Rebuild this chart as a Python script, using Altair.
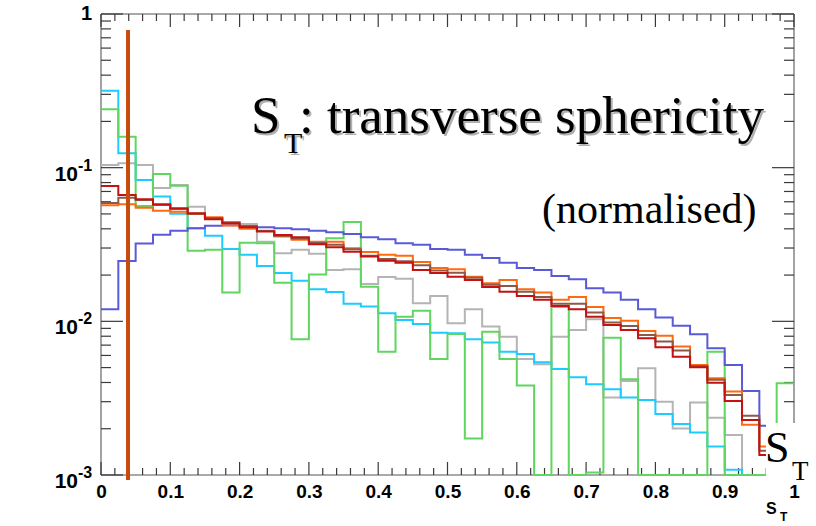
import altair as alt
import pandas as pd

# ---------------- data (normalised S_T distributions, 40 bins on [0,1]) ----------------
bin_width = 0.025
purple = [0.0120, 0.0247, 0.0321, 0.0366, 0.0389, 0.0403, 0.0419, 0.0422, 0.0418, 0.0410,
          0.0403, 0.0397, 0.0389, 0.0380, 0.0370, 0.0352, 0.0342, 0.0322, 0.0315, 0.0296,
          0.0292, 0.0271, 0.0258, 0.0241, 0.0222, 0.0216, 0.0197, 0.0188, 0.0164, 0.0154,
          0.0138, 0.0120, 0.0106, 0.00937, 0.00824, 0.00668, 0.00520, 0.00352, 0.00209, 0.0012]
orange = [0.0569, 0.0578, 0.0549, 0.0525, 0.0517, 0.0500, 0.0475, 0.0420, 0.0400, 0.0389,
          0.0356, 0.0339, 0.0330, 0.0329, 0.0299, 0.0283, 0.0271, 0.0267, 0.0243, 0.0222,
          0.0218, 0.0195, 0.0177, 0.0186, 0.0162, 0.0154, 0.0138, 0.0144, 0.0124, 0.0105,
          0.0101, 0.00866, 0.00807, 0.00685, 0.0052, 0.00426, 0.00349, 0.00212, 0.00153, 0.0011]
red = [0.0760, 0.0664, 0.0622, 0.0578, 0.0544, 0.0505, 0.0461, 0.0435, 0.0410, 0.0384,
       0.0365, 0.0352, 0.0318, 0.0303, 0.0284, 0.0264, 0.0248, 0.0241, 0.0216, 0.0206,
       0.0195, 0.0186, 0.0167, 0.0156, 0.0146, 0.0138, 0.0126, 0.0120, 0.0107, 0.00948,
       0.00879, 0.00776, 0.00679, 0.00589, 0.00502, 0.00399, 0.00303, 0.00228, 0.00135, 0.0010]
brown = [0.0589, 0.0638, 0.0616, 0.0572, 0.0538, 0.0502, 0.0471, 0.0440, 0.0412, 0.0387,
         0.0360, 0.0346, 0.0324, 0.0315, 0.0294, 0.0267, 0.0254, 0.0246, 0.0232, 0.0214,
         0.0207, 0.0192, 0.0173, 0.0170, 0.0156, 0.0144, 0.0130, 0.0130, 0.0114, 0.00982,
         0.00933, 0.00816, 0.00738, 0.00645, 0.00513, 0.00416, 0.00332, 0.00243, 0.00144, 0.00105]
gray = [0.104, 0.107, 0.104, 0.0738, 0.0771, 0.0557, 0.0471, 0.0443, 0.0430, 0.0330,
        0.0277, 0.0292, 0.0275, 0.0216, 0.0218, 0.0175, 0.0194, 0.0189, 0.0131, 0.0146,
        0.00972, 0.0120, 0.00924, 0.00795, 0.00569, 0.00526, 0.00795, 0.00879, 0.0103, 0.00319,
        0.00409, 0.00495, 0.00300, 0.00201, 0.00296, 0.00236, 0.00182, 0, 0, 0]
cyan = [0.317, 0.124, 0.0832, 0.0648, 0.0502, 0.0403, 0.0361, 0.0296, 0.0271, 0.0229,
        0.0206, 0.0184, 0.0162, 0.0155, 0.0130, 0.0125, 0.0113, 0.0102, 0.00962, 0.00844,
        0.00837, 0.00765, 0.00727, 0.00635, 0.00614, 0.00542, 0.0049, 0.00433, 0.0039, 0.00362,
        0.00319, 0.00308, 0.00249, 0.00215, 0.00189, 0.00153, 0.00108, 0, 0, 0]
green = [0.240, 0.159, 0.0563, 0.091, 0.0764, 0.0288, 0.0292, 0.0154, 0.0325, 0.0322,
         0.0178, 0.00765, 0.0202, 0.0347, 0.0443, 0.0168, 0.00635, 0.0107, 0.0117, 0.00569,
         0.00828, 0.00173, 0.00857, 0.00569, 0.00382, 0, 0.0124, 0, 0.00104, 0.00783,
         0.0042, 0, 0, 0, 0, 0.00635, 0, 0, 0, 0.00395]

cut_x = [0.039]
cut_top = [0.787]

x_tick_labels = [0, 0.1, 0.2, 0.3, 0.4, 0.5, 0.6, 0.7, 0.8, 0.9, 1]
y_decades = [0.1, 0.01, 0.001]
y_exponents = ["-1", "-2", "-3"]

series = [
    ("gray", gray, "#b4b4b4"),
    ("cyan", cyan, "#1ccbff"),
    ("green", green, "#5fd65f"),
    ("purple", purple, "#5a5ad9"),
    ("orange", orange, "#ff6a10"),
    ("brown", brown, "#8b5a48"),
    ("red", red, "#c41212"),
]

W, H = 693, 461
FLOOR = 1e-6  # empty bins are drawn on the lower frame edge (clamped)

xs = alt.Scale(domain=[0, 1], nice=False, zero=False)
ys = alt.Scale(type="log", domain=[0.001, 1], nice=False, clamp=True)
xaxis = alt.Axis(values=x_tick_labels, format="~g", labelFont="Liberation Sans",
                 labelFontWeight="bold", labelFontSize=19, labelColor="black",
                 labelPadding=7, labelFlush=False, labelOverlap=False,
                 domain=False, ticks=False, grid=False, title=None)
X = lambda: alt.X("x:Q", scale=xs, axis=xaxis)
Y = lambda: alt.Y("y:Q", scale=ys, axis=None)

layers = []

# frame lines
frame_col = "#8c8c8c"
layers.append(alt.Chart(pd.DataFrame({"a": [0]})).mark_rule(color=frame_col, strokeWidth=1.6).encode(
    x=alt.value(0), x2=alt.value(W), y=alt.value(0)))
layers.append(alt.Chart(pd.DataFrame({"a": [0]})).mark_rule(color=frame_col, strokeWidth=1.6).encode(
    x=alt.value(0), x2=alt.value(W), y=alt.value(H)))
layers.append(alt.Chart(pd.DataFrame({"a": [0]})).mark_rule(color=frame_col, strokeWidth=1.6).encode(
    x=alt.value(0), y=alt.value(0), y2=alt.value(H)))
layers.append(alt.Chart(pd.DataFrame({"a": [0]})).mark_rule(color=frame_col, strokeWidth=1.6).encode(
    x=alt.value(W), y=alt.value(0), y2=alt.value(H)))

# x ticks (inside, bottom and top)
xminor = pd.DataFrame({"x": [i / 50 for i in range(51) if i % 5 != 0]})
xmajor = pd.DataFrame({"x": [v for v in x_tick_labels]})
tick_col = "#3a3a3a"
for df, ln in ((xminor, 7), (xmajor, 13)):
    layers.append(alt.Chart(df).mark_rule(color=tick_col, strokeWidth=1.2).encode(
        x=X(), y=alt.value(H), y2=alt.value(H - ln)))
    layers.append(alt.Chart(df).mark_rule(color=tick_col, strokeWidth=1.2).encode(
        x=X(), y=alt.value(0), y2=alt.value(ln)))

# y ticks (inside, left and right)
yminor = pd.DataFrame({"y": [k * d for d in y_decades for k in range(2, 10)]})
ymajor = pd.DataFrame({"y": [1] + y_decades})
for df, ln in ((yminor, 10), (ymajor, 22)):
    layers.append(alt.Chart(df).mark_rule(color=tick_col, strokeWidth=1.2).encode(
        y=Y(), x=alt.value(0), x2=alt.value(ln)))
    layers.append(alt.Chart(df).mark_rule(color=tick_col, strokeWidth=1.2).encode(
        y=Y(), x=alt.value(W), x2=alt.value(W - ln)))

# histograms as step lines
for name, vals, col in series:
    pts = list(vals) + [vals[-1]]
    df = pd.DataFrame({
        "x": [i * bin_width for i in range(len(pts))],
        "y": [max(v, FLOOR) for v in pts],
        "o": list(range(len(pts))),
    })
    layers.append(alt.Chart(df).mark_line(interpolate="step-after", strokeWidth=2, color=col).encode(
        x=X(), y=Y(), order="o:Q"))

# thick vertical cut line
layers.append(alt.Chart(pd.DataFrame({"x": cut_x, "y": cut_top})).mark_rule(
    color="#c64c0c", strokeWidth=4).encode(x=X(), y=Y(), y2=alt.value(H + 5)))

# y axis labels (ROOT style 10^-n)
layers.append(alt.Chart(pd.DataFrame({"y": [1], "t": ["1"]})).mark_text(
    align="right", baseline="middle", font="Liberation Sans", fontWeight="bold",
    fontSize=20, color="black").encode(y=Y(), x=alt.value(-9), text="t:N"))
layers.append(alt.Chart(pd.DataFrame({"y": y_decades, "t": ["10"] * 3})).mark_text(
    align="right", baseline="middle", dy=7, font="Liberation Sans", fontWeight="bold",
    fontSize=21, color="black").encode(y=Y(), x=alt.value(-23), text="t:N"))
layers.append(alt.Chart(pd.DataFrame({"y": y_decades, "t": y_exponents})).mark_text(
    align="left", baseline="middle", dy=-2, font="Liberation Sans", fontWeight="bold",
    fontSize=16, color="black").encode(y=Y(), x=alt.value(-23), text="t:N"))

# white box in the lower right corner
layers.append(alt.Chart(pd.DataFrame({"a": [0]})).mark_rect(color="white").encode(
    x=alt.value(665), x2=alt.value(722), y=alt.value(409), y2=alt.value(465)))


def txt(s, x, y, size, color="black", font="Liberation Serif", weight="normal"):
    return alt.Chart(pd.DataFrame({"t": [s]})).mark_text(
        align="left", baseline="alphabetic", font=font, fontSize=size,
        fontWeight=weight, color=color).encode(x=alt.value(x), y=alt.value(y), text="t:N")


shadow = "#b0b0b0"
for dx, col in ((2, shadow), (0, "black")):
    layers.append(txt("S", 150 + dx, 119 + dx, 53, col))
    layers.append(txt("T", 183 + dx, 139 + dx, 30, col))
    layers.append(txt(": transverse sphericity", 198 + dx, 119 + dx, 53, col))

layers.append(txt("(normalised)", 441, 209, 42))

# big S_T in the corner
layers.append(txt("S", 664, 448, 44))
layers.append(txt("T", 691, 466, 27))

# x axis title
layers.append(txt("S", 665, 500, 16, font="Liberation Sans", weight="bold"))
layers.append(txt("T", 679, 507, 12, font="Liberation Sans", weight="bold"))

chart = alt.layer(*layers).properties(
    width=W, height=H,
    padding={"left": 101, "top": 14, "right": 22, "bottom": 51},
    autosize=alt.AutoSizeParams(type="none"),
    background="white",
).configure_view(stroke=None)

chart.save("out.html", embed_options={"renderer": "svg", "actions": False})
